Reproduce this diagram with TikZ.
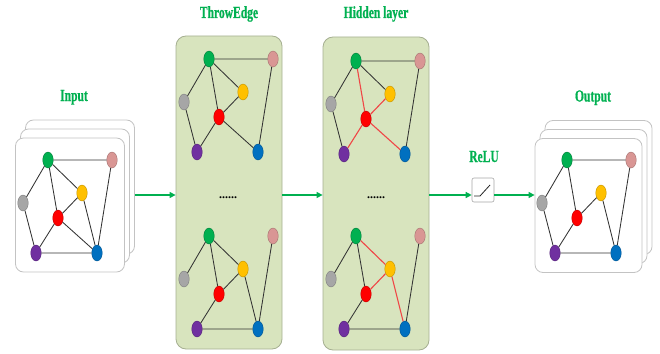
\documentclass[tikz,border=0pt]{standalone}
\usepackage{fontspec}
\setmainfont{Liberation Serif}
\newfontfamily\titlefont[FakeStretch=0.68,FakeBold=0.7]{Liberation Serif}
\usetikzlibrary{shapes.geometric,arrows.meta}

\definecolor{ttlgreen}{RGB}{0,176,80}
\definecolor{ngreen}{RGB}{0,176,80}
\definecolor{npink}{RGB}{217,150,148}
\definecolor{nyellow}{RGB}{255,192,0}
\definecolor{ngray}{RGB}{166,166,166}
\definecolor{nred}{RGB}{255,0,0}
\definecolor{npurple}{RGB}{112,48,160}
\definecolor{nblue}{RGB}{0,112,192}
\definecolor{panelfill}{RGB}{216,228,190}
\definecolor{panelline}{RGB}{165,175,145}
\definecolor{cardline}{RGB}{195,195,195}
\definecolor{hiedge}{RGB}{240,70,70}

\tikzset{
  vtx/.style={ellipse, minimum width=10.5pt, minimum height=16pt, inner sep=0pt, line width=0.4pt},
  edge/.style={draw=black!80, line width=0.85pt},
  hot/.style={draw=hiedge, line width=1.1pt},
  card/.style={draw=cardline, fill=white, rounded corners=8pt, line width=0.8pt,
    minimum width=109pt, minimum height=134pt, inner sep=0pt},
  panel/.style={draw=panelline, fill=panelfill, rounded corners=10pt, line width=0.8pt,
    minimum width=106pt, minimum height=313pt, inner sep=0pt},
  relubox/.style={draw=black!35, fill=white, rounded corners=2pt, line width=0.6pt,
    minimum width=22pt, minimum height=24pt, inner sep=0pt},
  flow/.style={draw=ttlgreen, line width=1.3pt, -{Triangle[length=6pt,width=6pt]}},
  title/.style={text=ttlgreen, font=\titlefont\bfseries\fontsize{17}{17}\selectfont, anchor=base},
  dots/.style={font=\bfseries\fontsize{12}{12}\selectfont, anchor=base, inner sep=0pt}
}

% seven vertices of one graph, placed relative to the green vertex
\newcommand\mkgraph[3]{%
  \node[vtx, fill=ngreen,  draw=ngreen!70!black]  (#1g) at (#2,#3) {};
  \node[vtx, fill=npink,   draw=npink!75!black]   (#1p) at (#2+64,#3) {};
  \node[vtx, fill=nyellow, draw=nyellow!75!black] (#1y) at (#2+34,#3+33) {};
  \node[vtx, fill=ngray,   draw=ngray!75!black]   (#1k) at (#2-25,#3+43) {};
  \node[vtx, fill=nred,    draw=nred!75!black]    (#1r) at (#2+10,#3+58) {};
  \node[vtx, fill=npurple, draw=npurple!75!black] (#1u) at (#2-12,#3+93) {};
  \node[vtx, fill=nblue,   draw=nblue!75!black]   (#1b) at (#2+49,#3+93) {};
}

\begin{document}
\begin{tikzpicture}[x=1pt, y=-1pt]
\useasboundingbox (0,0) rectangle (660,353);

% stacked input cards
\node[card] (inback) at (80,187) {};
\node[card] (inmid)  at (75,196) {};
\node[card] (infront) at (70,205) {};
% stacked output cards
\node[card, minimum width=107pt] (outback) at (598.5,187.5) {};
\node[card, minimum width=107pt] (outmid)  at (593.5,196.5) {};
\node[card, minimum width=107pt] (outfront) at (588.5,205.5) {};
% layer panels
\node[panel] (te) at (229,192.5) {};
\node[panel] (hl) at (376,193.5) {};
% ReLU unit
\node[relubox] (relu) at (483,190) {};
\draw[black!85, line width=0.8pt] (474,196) -- (480,196) -- (490,185);

% titles
\node[title] (tin)  at (74,101) {Input};
\node[title] (tte)  at (229,18) {ThrowEdge};
\node[title] (thl)  at (376,18) {Hidden layer};
\node[title] (trelu) at (484,162) {ReLU};
\node[title] (tout) at (593,101.5) {Output};

% ellipsis marks
\node[dots] (d1) at (228,198) {......};
\node[dots] (d2) at (376,198) {......};

% graphs
\mkgraph{a}{48}{160}
\mkgraph{t}{209}{59}
\mkgraph{s}{209}{236}
\mkgraph{h}{356}{61}
\mkgraph{m}{356}{236}
\mkgraph{o}{567}{160}

% input graph
\draw[edge] (ag)--(ap) (ag)--(ak) (ag)--(ar) (ag)--(ay) (ay)--(ar) (ay)--(ab)
            (ap)--(ab) (ak)--(au) (ar)--(au) (ar)--(ab) (au)--(ab);
% ThrowEdge samples
\draw[edge] (tg)--(tp) (tg)--(tk) (tg)--(ty) (tg)--(tr) (ty)--(tr)
            (tr)--(tu) (tk)--(tu) (tr)--(tb) (tp)--(tb);
\draw[edge] (sg)--(sk) (sg)--(sy) (sg)--(sr) (sy)--(sr) (sy)--(sb)
            (sr)--(su) (su)--(sb) (sp)--(sb);
% hidden layer
\draw[edge] (hg)--(hp) (hg)--(hk) (hg)--(hy) (hk)--(hu) (hp)--(hb);
\draw[hot]  (hg)--(hr) (hy)--(hr) (hr)--(hu) (hr)--(hb);
\draw[edge] (mg)--(mk) (mg)--(mr) (mr)--(mu) (mu)--(mb) (mp)--(mb);
\draw[hot]  (mg)--(my) (my)--(mr) (my)--(mb);
% output graph
\draw[edge] (og)--(op) (og)--(ok) (og)--(or) (oy)--(or) (oy)--(ob)
            (op)--(ob) (ok)--(ou) (or)--(ou) (ou)--(ob);

% data flow, all on one horizontal level
\coordinate (lvl) at (0,195);
\draw[flow] (inback.east |- lvl) -- (te.west |- lvl);
\draw[flow] (te.east |- lvl) -- (hl.west |- lvl);
\draw[flow] (hl.east |- lvl) -- (relu.west |- lvl);
\draw[flow] (relu.east |- lvl) -- (outfront.west |- lvl);
\end{tikzpicture}
\end{document}
